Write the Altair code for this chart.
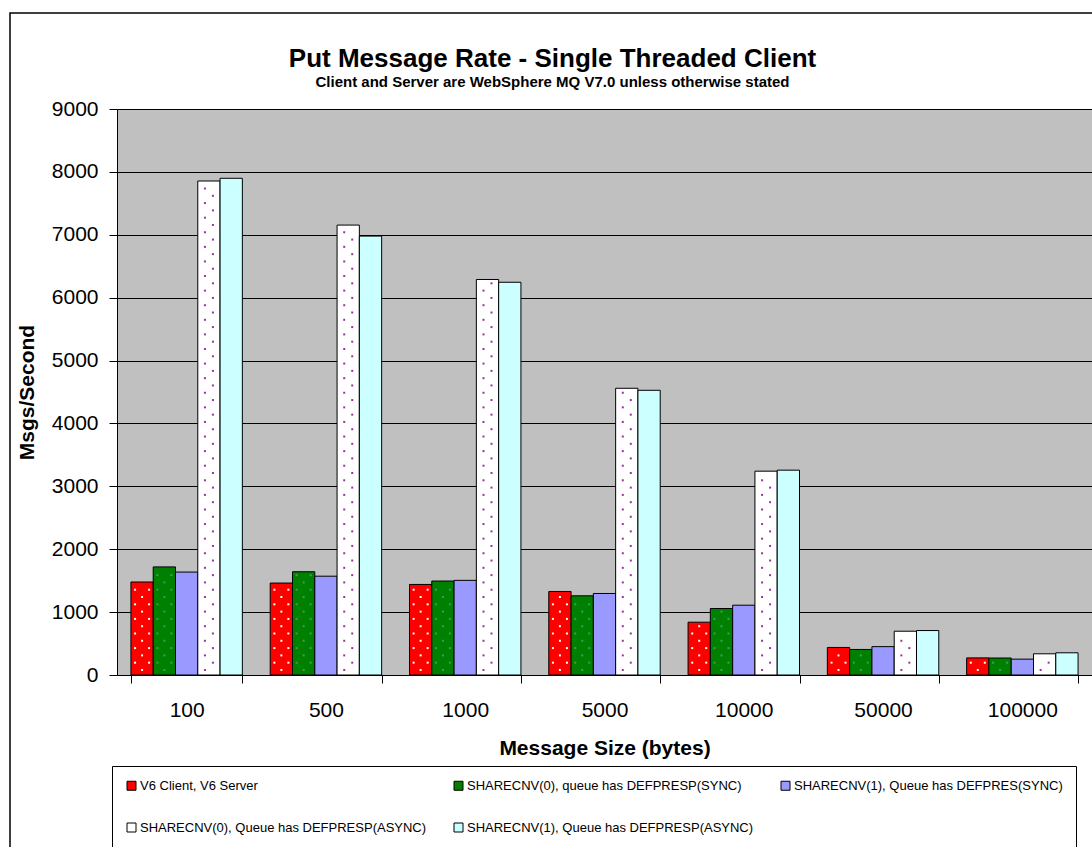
import altair as alt
import pandas as pd

# Message sizes (bytes) on the category axis
sizes = ["100", "500", "1000", "5000", "10000", "50000", "100000"]

# Client / server configurations compared
series = [
    "V6 Client, V6 Server",
    "SHARECNV(0), queue has DEFPRESP(SYNC)",
    "SHARECNV(1), Queue has DEFPRES(SYNC)",
    "SHARECNV(0), Queue has DEFPRESP(ASYNC)",
    "SHARECNV(1), Queue has DEFPRESP(ASYNC)",
]

# Put rate in messages per second, one list per configuration
v6_client = [1479, 1462, 1440, 1328, 840, 438, 272]
cnv0_sync = [1719, 1642, 1494, 1259, 1057, 406, 270]
cnv1_sync = [1637, 1571, 1505, 1296, 1110, 451, 252]
cnv0_async = [7855, 7154, 6289, 4559, 3241, 696, 337]
cnv1_async = [7898, 6979, 6245, 4527, 3257, 707, 353]

fills = ["#FF0000", "#008000", "#9999FF", "#FFFFFF", "#CCFFFF"]
y_ticks = list(range(0, 9001, 1000))

FONT = "Liberation Sans"
WIDTH = 975
HEIGHT = 566
PAD_INNER = 0.2
PAD_OUTER = 0.1

all_values = [v6_client, cnv0_sync, cnv1_sync, cnv0_async, cnv1_async]
rows = []
for s_name, vals in zip(series, all_values):
    for size, v in zip(sizes, vals):
        rows.append({"size": size, "series": s_name, "rate": v})
bars_df = pd.DataFrame(rows)

# Dotted fill texture: (dot colour, pixel offsets for alternating rows) per patterned series
texture = {
    0: ("#FFFFFF", [[0], [-7, 7]]),
    1: ("#3f9a62", [[0], [-7, 7]]),
    3: ("#993399", [[-4], [4]]),
}
ROW_STEP = 116
ROW_START = 80

step_px = WIDTH / (len(sizes) - PAD_INNER + 2 * PAD_OUTER)
band_px = step_px * (1 - PAD_INNER)

x_scale = alt.Scale(paddingInner=PAD_INNER, paddingOuter=PAD_OUTER)
x_axis = alt.Axis(
    title="Message Size (bytes)",
    labelAngle=0,
    tickBand="extent",
    tickSize=8,
    tickColor="black",
    domainColor="black",
    labelColor="black",
    labelFont=FONT,
    labelFontSize=21,
    labelPadding=16,
    titleFont=FONT,
    titleFontSize=21,
    titleFontWeight="bold",
    titleColor="black",
    titleY=79,
    titleBaseline="alphabetic",
    grid=False,
)
y_axis = alt.Axis(
    title="Msgs/Second",
    values=y_ticks,
    format="d",
    grid=True,
    gridColor="black",
    gridOpacity=1,
    gridWidth=1,
    domainColor="black",
    tickColor="black",
    tickSize=8,
    labelColor="black",
    labelFont=FONT,
    labelFontSize=21,
    labelPadding=11,
    titleFont=FONT,
    titleFontSize=21,
    titleFontWeight="bold",
    titleColor="black",
    titleAngle=270,
    titleX=-84,
    titleY=283,
    titleAlign="center",
    titleBaseline="alphabetic",
)
y_scale = alt.Scale(domain=[0, 9000], nice=False)

# Outer chart border
frame = alt.Chart(pd.DataFrame({"k": [0]})).mark_rect(
    fillOpacity=0, stroke="black", strokeWidth=1.5
).encode(
    x=alt.value(-107), x2=alt.value(1000), y=alt.value(-96), y2=alt.value(800)
)

bars = alt.Chart(bars_df).mark_bar(stroke="black", strokeWidth=1).encode(
    x=alt.X("size:N", sort=sizes, scale=x_scale, axis=x_axis),
    xOffset=alt.XOffset(
        "series:N", sort=series,
        scale=alt.Scale(domain=series, paddingInner=0, paddingOuter=0),
    ),
    y=alt.Y("rate:Q", scale=y_scale, axis=y_axis),
    fill=alt.Fill(
        "series:N",
        sort=series,
        scale=alt.Scale(domain=series, range=fills),
        legend=alt.Legend(
            title=None,
            orient="none",
            legendX=-5,
            legendY=657,
            direction="horizontal",
            columns=3,
            columnPadding=25,
            rowPadding=28,
            padding=13,
            fillColor="white",
            strokeColor="black",
            labelFont=FONT,
            labelFontSize=13,
            labelColor="black",
            labelLimit=0,
            labelOffset=2,
            symbolType="square",
            symbolSize=81,
            symbolStrokeColor="black",
            symbolStrokeWidth=1,
        ),
    ),
)

# One layer of texture dots per (series, horizontal offset) pair
dot_layers = []
for idx, (color, pattern) in texture.items():
    offsets = sorted({o for row in pattern for o in row})
    for off in offsets:
        recs = []
        for size, v in zip(sizes, all_values[idx]):
            k = 0
            while ROW_START + k * ROW_STEP <= v - 40:
                if off in pattern[k % 2]:
                    recs.append({"size": size, "pos": ROW_START + k * ROW_STEP})
                k += 1
        if not recs:
            continue
        band_pos = (idx + 0.5) / len(series) + off / band_px
        dot_layers.append(
            alt.Chart(pd.DataFrame(recs)).mark_square(size=4, opacity=1, color=color).encode(
                x=alt.X("size:N", sort=sizes, scale=x_scale, axis=x_axis, bandPosition=band_pos),
                y=alt.Y("pos:Q", scale=y_scale, axis=y_axis),
            )
        )

chart = alt.layer(frame, bars, *dot_layers).properties(
    width=WIDTH,
    height=HEIGHT,
    autosize=alt.AutoSizeParams(type="none"),
    padding={"left": 117, "top": 109, "right": 0, "bottom": 172},
    background="white",
    title=alt.Title(
        text="Put Message Rate - Single Threaded Client",
        subtitle="Client and Server are WebSphere MQ V7.0 unless otherwise stated",
        font=FONT,
        fontSize=26,
        fontWeight="bold",
        color="black",
        subtitleFont=FONT,
        subtitleFontSize=15,
        subtitleFontWeight="bold",
        subtitleColor="black",
        anchor="middle",
        dx=-52,
        dy=82,
    ),
).configure_view(stroke=None, fill="#C0C0C0")

chart.save("out.html", embed_options={"renderer": "svg", "actions": False})
